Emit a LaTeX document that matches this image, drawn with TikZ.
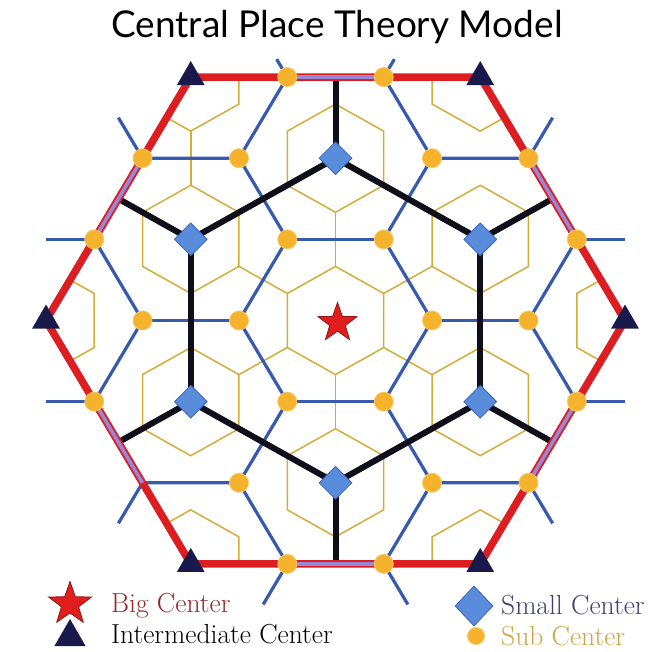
\documentclass[tikz,border=0pt]{standalone}
\usepackage{fontspec}
\newfontfamily\titlefont{Lato}
\usetikzlibrary{shapes.geometric,calc}
\definecolor{cRed}{RGB}{220,30,35}
\definecolor{cBlack}{RGB}{15,15,25}
\definecolor{cBlue}{RGB}{55,90,175}
\definecolor{cLav}{RGB}{150,135,215}
\definecolor{cYel}{RGB}{212,172,55}
\definecolor{cOrange}{RGB}{245,178,45}
\definecolor{cOrangeEdge}{RGB}{250,200,95}
\definecolor{cDiam}{RGB}{90,140,220}
\definecolor{cDiamEdge}{RGB}{60,100,190}
\definecolor{cNavy}{RGB}{25,25,75}
\definecolor{cStar}{RGB}{225,30,30}
\definecolor{cStarEdge}{RGB}{150,20,20}
\definecolor{cBigTxt}{RGB}{150,40,40}
\definecolor{cSmallTxt}{RGB}{60,65,110}
\definecolor{cSubTxt}{RGB}{205,165,70}
\begin{document}
\begin{tikzpicture}[x=1pt,y=-1pt,
  lnYel/.style={draw=cYel,line width=1.5pt},
  lnBlue/.style={draw=cBlue,line width=3.2pt},
  lnBlack/.style={draw=cBlack,line width=6pt},
  lnRed/.style={draw=cRed,line width=7.5pt,line join=round},
  lnLav/.style={draw=cLav,line width=3.6pt},
  subc/.style={circle,fill=cOrange,draw=cOrangeEdge,line width=0.8pt,minimum size=19pt,inner sep=0pt},
  smallc/.style={diamond,fill=cDiam,draw=cDiamEdge,line width=0.8pt,minimum width=33pt,minimum height=33pt,inner sep=0pt},
  interc/.style={regular polygon,regular polygon sides=3,fill=cNavy,minimum size=32pt,inner sep=0pt},
  bigc/.style={star,star points=5,star point ratio=2.5,fill=cStar,draw=cStarEdge,line width=0.8pt,minimum size=41pt,inner sep=0pt},
  legtxt/.style={anchor=base west,inner sep=0pt,font=\fontsize{27.5}{32}\selectfont}
]
\useasboundingbox (0,0) rectangle (663,652);
\fill[white] (0,0) rectangle (663,652);

\begin{scope}[shift={(335.5,320.5)},x={(96.5pt,0pt)},y={(0pt,93.7pt)}]
  % lattice coordinates
  \coordinate (c0) at (0,0);
  \foreach \k in {0,...,5}{
    \coordinate (a\k) at (60*\k:1);
    \coordinate (b\k) at (60*\k:2);
    \coordinate (t\k) at (60*\k:3);
    \coordinate (s\k) at (60*\k+30:1.732);
    \coordinate (m\k) at (60*\k+30:2.598);
    \coordinate (u\k) at (60*\k+19.107:2.6458);
    \coordinate (v\k) at (60*\k-19.107:2.6458);
  }
  \foreach \k/\lu/\lv in {0/0.5/0.5,1/0.22/0.5,2/0.5/0.22,3/0.5/0.5,4/0.5/0.5,5/0.5/0.5}{
    \coordinate (ue\k) at ($(u\k)+(60*\k:\lu)$);
    \coordinate (ve\k) at ($(v\k)+(60*\k:\lv)$);
  }

  % yellow market areas (sub-centre level)
  \begin{scope}
    \clip (t0)--(t1)--(t2)--(t3)--(t4)--(t5)--cycle;
    \foreach \ang/\r in {0/0,30/1.732,90/1.732,150/1.732,210/1.732,270/1.732,330/1.732,0/3,60/3,120/3,180/3,240/3,300/3}{
      \draw[lnYel,shift={(\ang:\r)}] (30:0.577)--(90:0.577)--(150:0.577)--(210:0.577)--(270:0.577)--(330:0.577)--cycle;
    }
  \end{scope}
  \foreach \a in {30,90,...,330}{
    \draw[lnYel] (\a:0.577) -- (\a:1.155);
  }
  \draw[lnYel] (-1.5,2.021) -- (-1.5,1.443);

  % blue lines
  \foreach \k in {0,...,5}{
    \pgfmathtruncatemacro\kn{mod(\k+1,6)}
    \draw[lnBlue] (a\k) -- (a\kn);
    \draw[lnBlue] (a\k) -- (b\k);
    \draw[lnBlue] (b\k) -- (u\k);
    \draw[lnBlue] (b\k) -- (v\k);
    \draw[lnBlue] (u\k) -- (ue\k);
    \draw[lnBlue] (v\k) -- (ve\k);
  }

  % black lines
  \foreach \k in {0,...,5}{
    \pgfmathtruncatemacro\kn{mod(\k+1,6)}
    \draw[lnBlack] (s\k) -- (s\kn);
    \draw[lnBlack] (s\k) -- (m\k);
  }

  % red hexagon
  \draw[lnRed] (t0)--(t1)--(t2)--(t3)--(t4)--(t5)--cycle;
  \foreach \k in {0,...,5}{
    \pgfmathtruncatemacro\kn{mod(\k+1,6)}
    \draw[lnLav] (u\k) -- (v\kn);
  }

  % centres
  \foreach \k in {0,...,5}{
    \node[subc] (na\k) at (a\k) {};
    \node[subc] (nb\k) at (b\k) {};
    \node[subc] (nu\k) at (u\k) {};
  }
  \foreach \k in {0,1,2,3,5}{
    \node[subc] (nv\k) at (v\k) {};
  }
  \foreach \k in {0,...,5}{
    \node[smallc] (ns\k) at (s\k) {};
    \node[interc] (nt\k) at (t\k) {};
  }
  \node[bigc,xshift=2pt,yshift=-2.5pt] (nc) at (c0) {};
\end{scope}

% title
\node[anchor=base,inner sep=0pt,font=\titlefont\fontsize{37}{42}\selectfont] (title) at (337,38) {Central Place Theory Model};

% legend
\node[bigc,minimum size=45pt] (lgStar) at (70,604) {};
\node[legtxt,text=cBigTxt] (lgBig) at (111,612) {Big Center};
\node[interc,minimum size=36pt] (lgTri) at (70,637) {};
\node[legtxt,text=black] (lgInt) at (111,643) {Intermediate Center};
\node[smallc,minimum width=38pt,minimum height=40pt] (lgDiam) at (474,606) {};
\node[legtxt,text=cSmallTxt] (lgSmall) at (501,614) {Small Center};
\node[subc,minimum size=17pt] (lgSub) at (476,636) {};
\node[legtxt,text=cSubTxt] (lgSubT) at (501,645) {Sub Center};
\end{tikzpicture}
\end{document}
